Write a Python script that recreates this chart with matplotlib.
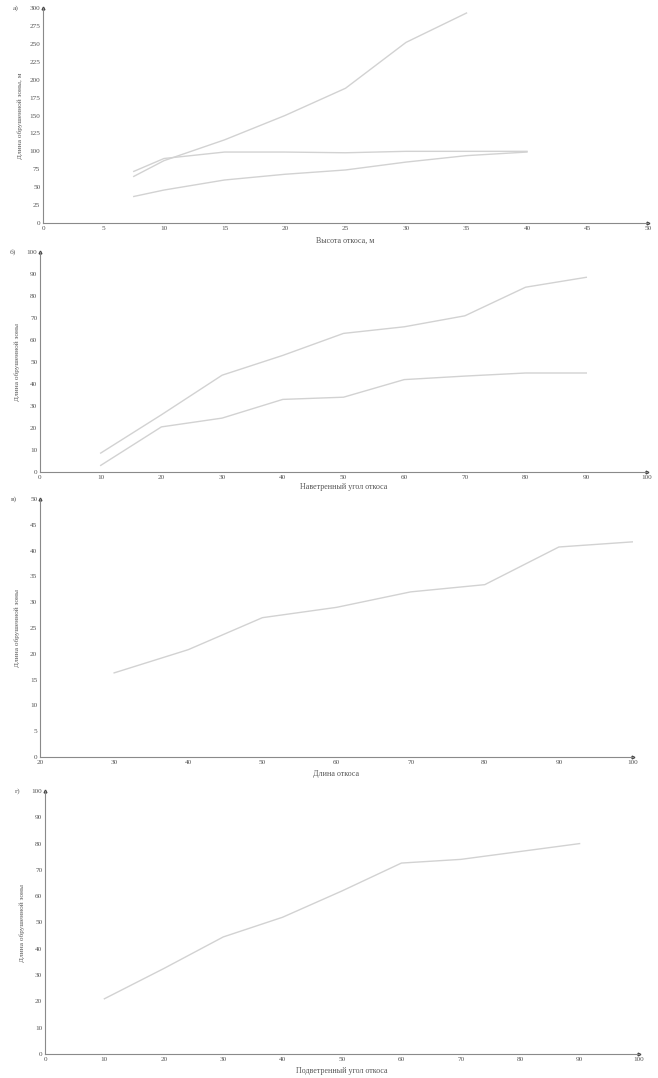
import matplotlib
matplotlib.use("Agg")
import matplotlib.pyplot as plt
import numpy as np

plt.rcParams['font.family'] = ['Liberation Serif', 'DejaVu Serif']

# Panel а: Длина обрушенной зоны vs Высота откоса
a_x1 = [7.5, 10, 15, 20, 25, 30, 35]
a_y1 = [65, 87, 116, 150, 188, 252, 293]
a_x2 = [7.5, 10, 15, 20, 25, 30, 35, 40]
a_y2 = [72, 90, 99, 99, 98, 100, 100, 100]
a_x3 = [7.5, 10, 15, 20, 25, 30, 35, 40]
a_y3 = [37, 46, 60, 68, 74, 85, 94, 99]

# Panel б: Наветренный угол откоса
b_x = [10, 20, 30, 40, 50, 60, 70, 80, 90]
b_y1 = [8.6, 26, 44, 53, 63, 66, 71, 84, 88.5]
b_y2 = [3, 20.5, 24.5, 33, 34, 42, 43.6, 45, 45]

# Panel в: Длина откоса
c_x = [30, 40, 50, 60, 70, 80, 90, 100]
c_y = [16.3, 20.8, 27, 29, 32, 33.4, 40.7, 41.7]

# Panel г: Подветренный угол откоса
d_x = [10, 20, 30, 40, 50, 60, 70, 80, 90]
d_y = [21, 32.5, 44.5, 52, 62, 72.6, 74, 77, 80]

W, H = 658, 1078
fig = plt.figure(figsize=(W / 100, H / 100), dpi=100)

LINE_C = '#d2d2d2'
AX_C = '#8a8a8a'
TXT_C = '#555555'
FS = 5.2


def make_ax(x0, x1, y0, y1):
    # pixel coords -> figure fraction
    return fig.add_axes([x0 / W, 1 - y0 / H, (x1 - x0) / W, (y0 - y1) / H])


def style(ax, xlim, ylim, xt, yt, xlabel, ylabel, letter, xlab_y, ylab_x=-0.038):
    ax.set_xlim(*xlim)
    ax.set_ylim(*ylim)
    ax.set_xticks(xt)
    ax.set_yticks(yt)
    ax.set_xticklabels([str(v) for v in xt], fontsize=FS, color=TXT_C)
    ax.set_yticklabels([str(v) for v in yt], fontsize=FS, color=TXT_C)
    ax.tick_params(length=0, pad=2)
    for s in ['top', 'right']:
        ax.spines[s].set_visible(False)
    for s in ['left', 'bottom']:
        ax.spines[s].set_color(AX_C)
        ax.spines[s].set_linewidth(0.8)
    ax.plot(1, 0, marker='>', ms=2.0, color='#444444', transform=ax.transAxes, clip_on=False)
    ax.plot(0, 1, marker='^', ms=2.0, color='#444444', transform=ax.transAxes, clip_on=False)
    ax.text(0.5, xlab_y, xlabel, transform=ax.transAxes, ha='center', va='top',
            fontsize=5.8, color=TXT_C)
    ax.text(ylab_x, 0.5, ylabel, transform=ax.transAxes, ha='center', va='center',
            rotation=90, fontsize=5.2, color=TXT_C)
    ax.text(-0.05, 1.0, letter, transform=ax.transAxes, ha='left', va='center',
            fontsize=5.4, color=TXT_C)


# а
ax = make_ax(43, 648, 223, 8)
ax.plot(a_x1, a_y1, color=LINE_C, lw=1.0)
ax.plot(a_x2, a_y2, color=LINE_C, lw=1.0)
ax.plot(a_x3, a_y3, color=LINE_C, lw=1.0)
style(ax, (0, 50), (0, 300), list(range(0, 51, 5)), list(range(0, 301, 25)),
      'Высота откоса, м', 'Длина обрушенной зоны, м', 'а)', -0.065)

# б
ax = make_ax(40, 647, 472, 252)
ax.plot(b_x, b_y1, color=LINE_C, lw=1.0)
ax.plot(b_x, b_y2, color=LINE_C, lw=1.0)
style(ax, (0, 100), (0, 100), list(range(0, 101, 10)), list(range(0, 101, 10)),
      'Наветренный угол откоса', 'Длина обрушенной зоны', 'б)', -0.05)

# в
ax = make_ax(40, 633, 757, 499)
ax.plot(c_x, c_y, color=LINE_C, lw=1.0)
style(ax, (20, 100), (0, 50), list(range(20, 101, 10)), list(range(0, 51, 5)),
      'Длина откоса', 'Длина обрушенной зоны', 'в)', -0.05)

# г
ax = make_ax(45, 639, 1054, 791)
ax.plot(d_x, d_y, color=LINE_C, lw=1.0)
style(ax, (0, 100), (0, 100), list(range(0, 101, 10)), list(range(0, 101, 10)),
      'Подветренный угол откоса', 'Длина обрушенной зоны', 'г)', -0.05)

fig.savefig('out.png', dpi=100, facecolor='white')
